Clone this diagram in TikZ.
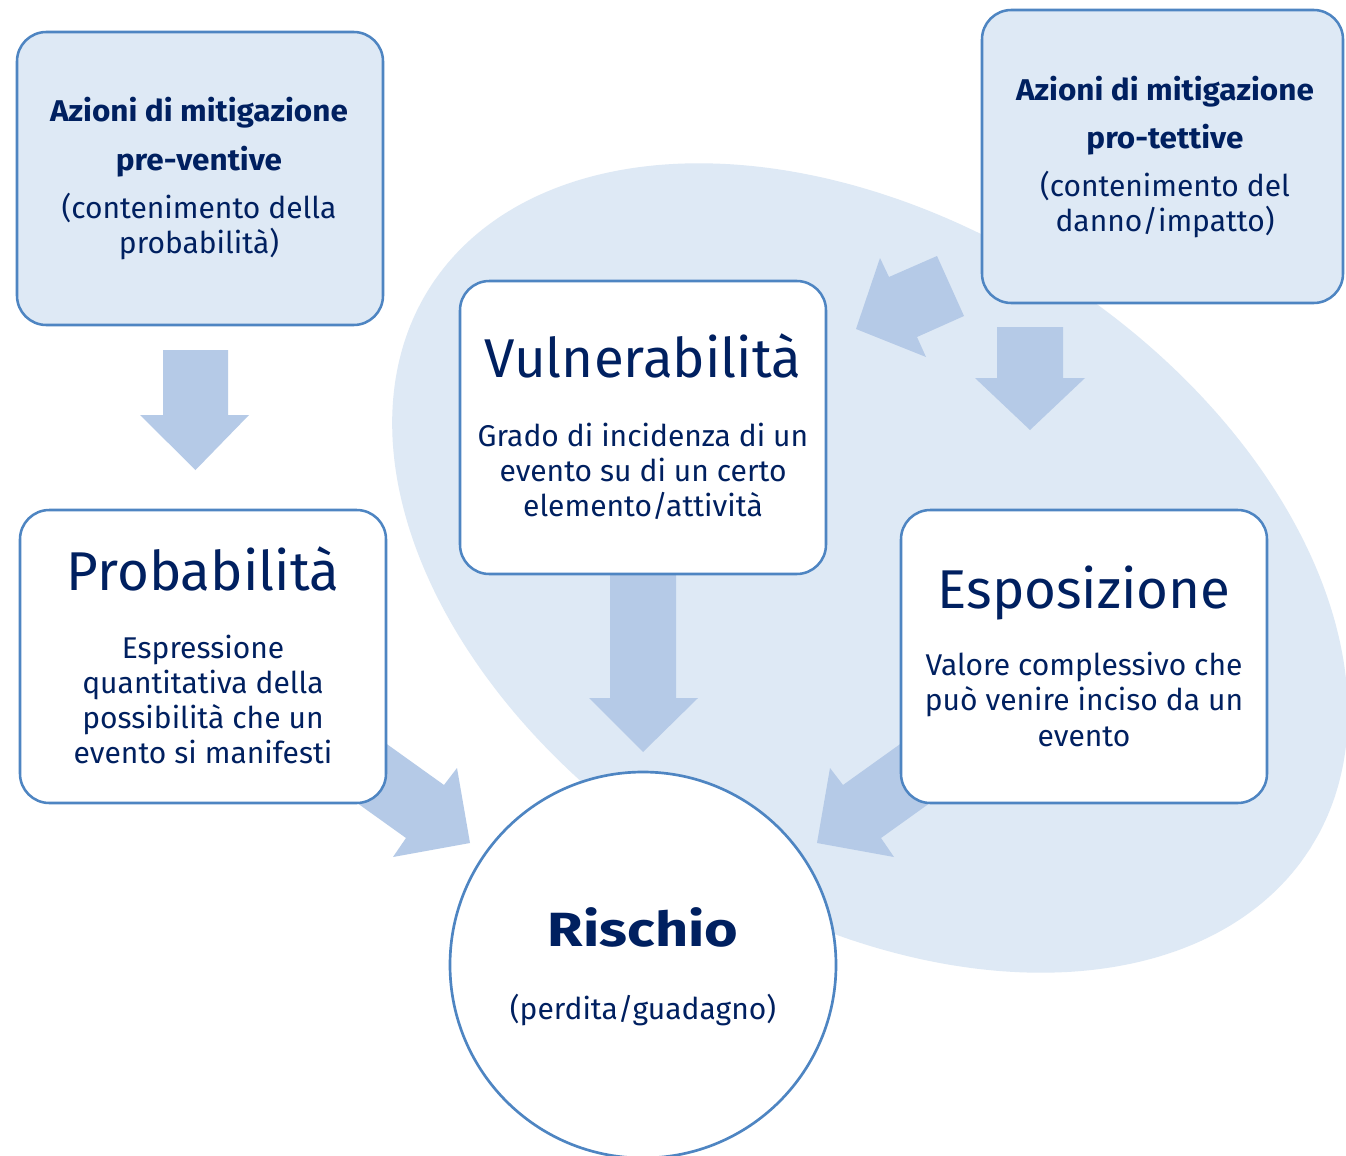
\documentclass[tikz,border=0pt]{standalone}
\usepackage{fontspec}
\setmainfont{Fira Sans}
\newfontfamily\boldwide[FakeStretch=1.05]{Fira Sans Bold}
\newfontfamily\boldwider[FakeStretch=1.2]{Fira Sans Bold}
\definecolor{txtc}{HTML}{002060}
\definecolor{strokec}{HTML}{4E85C2}
\definecolor{lightc}{HTML}{DEE9F5}
\definecolor{arrowc}{HTML}{B5CAE7}
\begin{document}
\begin{tikzpicture}[x=0.75pt,y=-0.75pt,
  boxw/.style={draw=strokec, line width=1.9pt, rounded corners=22pt, fill=white, inner sep=0pt},
  boxl/.style={draw=strokec, line width=1.9pt, rounded corners=22pt, fill=lightc, inner sep=0pt},
  blockarrow/.style={fill=arrowc, draw=none},
  txt/.style={text=txtc, anchor=base, inner sep=0pt},
  body/.style={txt, font=\fontsize{22.5}{27}\selectfont},
  bodyb/.style={txt, font=\fontsize{22.5}{27}\selectfont\boldwide},
  title/.style={txt, font=\fontsize{41}{48}\selectfont},
  titleb/.style={txt, font=\fontsize{36}{43}\selectfont\boldwider}
]
\useasboundingbox (0,0) rectangle (1346,1156);
\fill[white] (0,0) rectangle (1346,1156);
\begin{scope}
\clip (0,0) rectangle (1346,1156);
% background ellipse (tilted)
\fill[lightc] plot[domain=0:360, samples=120, smooth cycle, variable=\t]
  ({870 + 522*cos(\t)*cos(32.5) - 346*sin(\t)*sin(32.5)},
   {568 + 522*cos(\t)*sin(32.5) + 346*sin(\t)*cos(32.5)});

% block arrows
\fill[blockarrow] (163,350) -- (228,350) -- (228,415) -- (249,415) -- (195.5,470) -- (140,415) -- (163,415) -- cycle;
\fill[blockarrow] (610,560) -- (676,560) -- (676,698) -- (698,698) -- (643,752) -- (589,698) -- (610,698) -- cycle;
\fill[blockarrow] (997,327) -- (1063,327) -- (1063,378) -- (1085,378) -- (1030,430) -- (975,378) -- (997,378) -- cycle;
\fill[blockarrow] (937,256) -- (964,316) -- (917,337) -- (926,357) -- (856,329) -- (880,258) -- (889,277) -- cycle;
\fill[blockarrow] (363,727) -- (444,785) -- (457,768) -- (470,843) -- (393,857) -- (406,838) -- (325,780) -- cycle;
\fill[blockarrow] (924,727) -- (843,785) -- (830,768) -- (817,843) -- (894,857) -- (881,838) -- (962,780) -- cycle;

% boxes
\node[boxl, minimum width=274.5pt, minimum height=219.75pt] (boxA) at (200,178.5) {};
\node[boxl, minimum width=270.75pt, minimum height=219.75pt] (boxB) at (1162.5,156.5) {};
\node[boxw, minimum width=274.5pt, minimum height=219.75pt] (prob) at (203,656.5) {};
\node[boxw, minimum width=274.5pt, minimum height=219.75pt] (vuln) at (643,427.5) {};
\node[boxw, minimum width=274.5pt, minimum height=219.75pt] (espo) at (1084,656.5) {};
\node[circle, draw=strokec, line width=2pt, fill=white, minimum size=289.5pt, inner sep=0pt] (risk) at (643,965) {};
\end{scope}

% texts box A
\node[bodyb] (a1) at (199,122) {Azioni di mitigazione};
\node[bodyb] (a2) at (199,170) {pre-ventive};
\node[body] (a3) at (199,218) {(contenimento della};
\node[body] (a4) at (199,253) {probabilità)};
% texts box B
\node[bodyb] (b1) at (1165,100) {Azioni di mitigazione};
\node[bodyb] (b2) at (1165,148) {pro-tettive};
\node[body] (b3) at (1165,196) {(contenimento del};
\node[body] (b4) at (1165,231) {danno/impatto)};
% Probabilita
\node[title] (p0) at (203,590) {Probabilità};
\node[body] (p1) at (203,658) {Espressione};
\node[body] (p2) at (203,693) {quantitativa della};
\node[body] (p3) at (203,728) {possibilità che un};
\node[body] (p4) at (203,763) {evento si manifesti};
% Vulnerabilita
\node[title] (v0) at (643,377) {Vulnerabilità};
\node[body] (v1) at (643,446) {Grado di incidenza di un};
\node[body] (v2) at (643,481) {evento su di un certo};
\node[body] (v3) at (643,516) {elemento/attività};
% Esposizione
\node[title] (e0) at (1084,608) {Esposizione};
\node[body] (e1) at (1084,675) {Valore complessivo che};
\node[body] (e2) at (1084,710) {può venire inciso da un};
\node[body] (e3) at (1084,746) {evento};
% Rischio
\node[titleb] (r0) at (643,946) {Rischio};
\node[body] (r1) at (643,1019) {(perdita/guadagno)};
\end{tikzpicture}
\end{document}
